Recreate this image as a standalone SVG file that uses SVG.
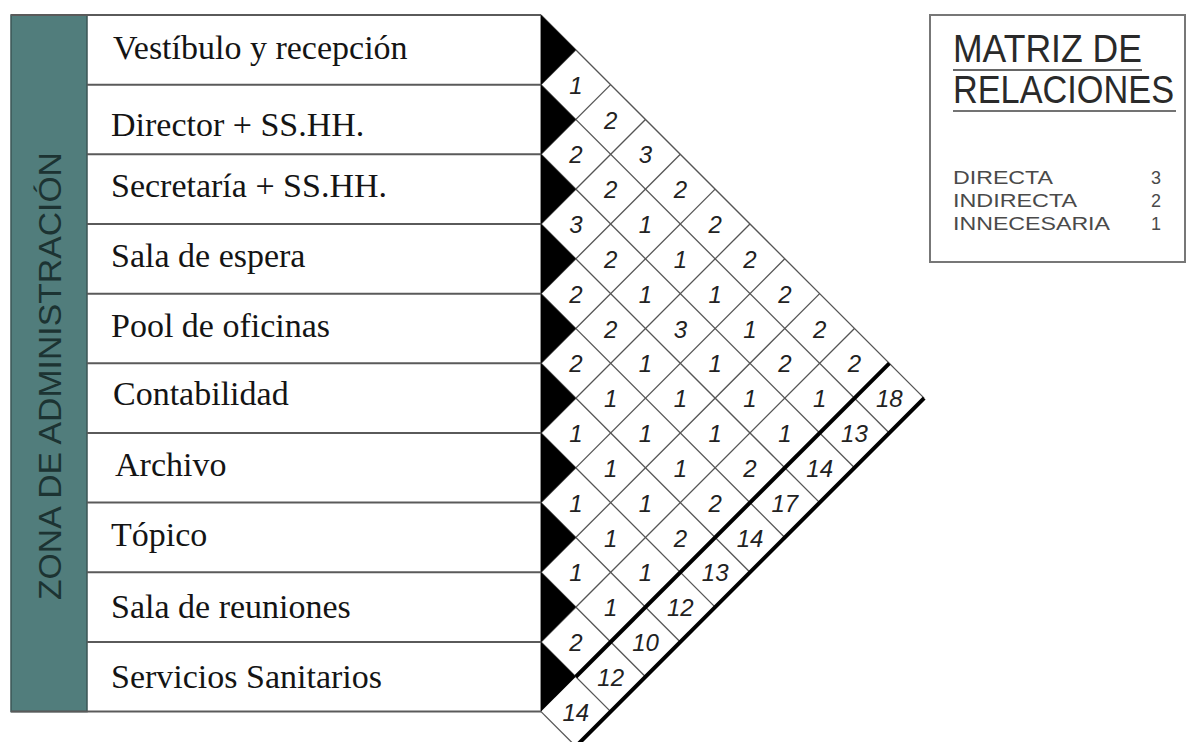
<svg xmlns="http://www.w3.org/2000/svg" width="1188" height="742" viewBox="0 0 1188 742">
<style>
.lbl{font-family:"Liberation Serif","Times New Roman",serif;font-size:34px;fill:#141414}
.zone{font-family:"Liberation Sans",Arial,sans-serif;font-size:31px;fill:#1c3332}
.sep{stroke:#5a5a5a;stroke-width:2;fill:none}
.grid{stroke:#555;stroke-width:1.3;fill:none}
.thick{stroke:#000;stroke-width:4;fill:none}
.tri{fill:#000}
.n{font-family:"Liberation Sans",Arial,sans-serif;font-style:italic;font-size:24px;fill:#222;text-anchor:middle}
.ttl{font-family:"Liberation Sans",Arial,sans-serif;font-size:38px;fill:#2a2a2a}
.leg{font-family:"Liberation Sans",Arial,sans-serif;font-size:18px;fill:#4a4a4a}
</style>
<rect width="1188" height="742" fill="#fff"/>
<g id="zone-label">
<rect x="11" y="15" width="76" height="696.6" fill="#517d7c" stroke="#3b5656" stroke-width="1.5"/>
<text class="zone" transform="translate(61,376) rotate(-90)" text-anchor="middle" textLength="448" lengthAdjust="spacingAndGlyphs">ZONA DE ADMINISTRACIÓN</text>
</g>
<g id="table-frame">
<line class="sep" x1="11" y1="15" x2="541" y2="15"/>
<line class="sep" x1="87" y1="84.66" x2="541" y2="84.66"/>
<line class="sep" x1="87" y1="154.32" x2="541" y2="154.32"/>
<line class="sep" x1="87" y1="223.98" x2="541" y2="223.98"/>
<line class="sep" x1="87" y1="293.64" x2="541" y2="293.64"/>
<line class="sep" x1="87" y1="363.3" x2="541" y2="363.3"/>
<line class="sep" x1="87" y1="432.96" x2="541" y2="432.96"/>
<line class="sep" x1="87" y1="502.62" x2="541" y2="502.62"/>
<line class="sep" x1="87" y1="572.28" x2="541" y2="572.28"/>
<line class="sep" x1="87" y1="641.94" x2="541" y2="641.94"/>
<line class="sep" x1="11" y1="711.6" x2="541" y2="711.6"/>
</g>
<g id="row-0"><text class="lbl" x="113" y="59">Vestíbulo y recepción</text></g>
<g id="row-1"><text class="lbl" x="111" y="136">Director + SS.HH.</text></g>
<g id="row-2"><text class="lbl" x="111" y="197">Secretaría + SS.HH.</text></g>
<g id="row-3"><text class="lbl" x="111" y="267">Sala de espera</text></g>
<g id="row-4"><text class="lbl" x="111" y="337">Pool de oficinas</text></g>
<g id="row-5"><text class="lbl" x="113" y="405">Contabilidad</text></g>
<g id="row-6"><text class="lbl" x="115" y="476">Archivo</text></g>
<g id="row-7"><text class="lbl" x="111" y="546">Tópico</text></g>
<g id="row-8"><text class="lbl" x="111" y="618">Sala de reuniones</text></g>
<g id="row-9"><text class="lbl" x="111" y="688">Servicios Sanitarios</text></g>
<g id="connectors">
<line class="grid" x1="541" y1="15" x2="924.13" y2="398.13"/>
<line class="grid" x1="541" y1="84.66" x2="889.3" y2="432.96"/>
<line class="grid" x1="541" y1="154.32" x2="854.47" y2="467.79"/>
<line class="grid" x1="541" y1="223.98" x2="819.64" y2="502.62"/>
<line class="grid" x1="541" y1="293.64" x2="784.81" y2="537.45"/>
<line class="grid" x1="541" y1="363.3" x2="749.98" y2="572.28"/>
<line class="grid" x1="541" y1="432.96" x2="715.15" y2="607.11"/>
<line class="grid" x1="541" y1="502.62" x2="680.32" y2="641.94"/>
<line class="grid" x1="541" y1="572.28" x2="645.49" y2="676.77"/>
<line class="grid" x1="541" y1="641.94" x2="610.66" y2="711.6"/>
<line class="grid" x1="541" y1="711.6" x2="575.83" y2="746.43"/>
<line class="grid" x1="541" y1="84.66" x2="575.83" y2="49.83"/>
<line class="grid" x1="541" y1="154.32" x2="610.66" y2="84.66"/>
<line class="grid" x1="541" y1="223.98" x2="645.49" y2="119.49"/>
<line class="grid" x1="541" y1="293.64" x2="680.32" y2="154.32"/>
<line class="grid" x1="541" y1="363.3" x2="715.15" y2="189.15"/>
<line class="grid" x1="541" y1="432.96" x2="749.98" y2="223.98"/>
<line class="grid" x1="541" y1="502.62" x2="784.81" y2="258.81"/>
<line class="grid" x1="541" y1="572.28" x2="819.64" y2="293.64"/>
<line class="grid" x1="541" y1="641.94" x2="854.47" y2="328.47"/>
<line class="grid" x1="541" y1="15" x2="541" y2="711.6"/>
<polygon class="tri" points="541,15 575.83,49.83 541,84.66"/>
<polygon class="tri" points="541,84.66 575.83,119.49 541,154.32"/>
<polygon class="tri" points="541,154.32 575.83,189.15 541,223.98"/>
<polygon class="tri" points="541,223.98 575.83,258.81 541,293.64"/>
<polygon class="tri" points="541,293.64 575.83,328.47 541,363.3"/>
<polygon class="tri" points="541,363.3 575.83,398.13 541,432.96"/>
<polygon class="tri" points="541,432.96 575.83,467.79 541,502.62"/>
<polygon class="tri" points="541,502.62 575.83,537.45 541,572.28"/>
<polygon class="tri" points="541,572.28 575.83,607.11 541,641.94"/>
<polygon class="tri" points="541,641.94 575.83,676.77 541,711.6"/>
<line class="thick" x1="575.83" y1="676.77" x2="889.3" y2="363.3"/>
<line class="thick" x1="575.83" y1="746.43" x2="924.13" y2="398.13"/>
</g>
<g id="matrix-values">
<text class="n" x="575.83" y="93.7">1</text>
<text class="n" x="610.66" y="128.5">2</text>
<text class="n" x="575.83" y="163.3">2</text><text class="n" x="645.49" y="163.3">3</text>
<text class="n" x="610.66" y="198.2">2</text><text class="n" x="680.32" y="198.2">2</text>
<text class="n" x="575.83" y="233">3</text><text class="n" x="645.49" y="233">1</text><text class="n" x="715.15" y="233">2</text>
<text class="n" x="610.66" y="267.8">2</text><text class="n" x="680.32" y="267.8">1</text><text class="n" x="749.98" y="267.8">2</text>
<text class="n" x="575.83" y="302.6">2</text><text class="n" x="645.49" y="302.6">1</text><text class="n" x="715.15" y="302.6">1</text><text class="n" x="784.81" y="302.6">2</text>
<text class="n" x="610.66" y="337.5">2</text><text class="n" x="680.32" y="337.5">3</text><text class="n" x="749.98" y="337.5">1</text><text class="n" x="819.64" y="337.5">2</text>
<text class="n" x="575.83" y="372.3">2</text><text class="n" x="645.49" y="372.3">1</text><text class="n" x="715.15" y="372.3">1</text><text class="n" x="784.81" y="372.3">2</text><text class="n" x="854.47" y="372.3">2</text>
<text class="n" x="610.66" y="407.1">1</text><text class="n" x="680.32" y="407.1">1</text><text class="n" x="749.98" y="407.1">1</text><text class="n" x="819.64" y="407.1">1</text><text class="n" x="889.3" y="407.1">18</text>
<text class="n" x="575.83" y="442">1</text><text class="n" x="645.49" y="442">1</text><text class="n" x="715.15" y="442">1</text><text class="n" x="784.81" y="442">1</text><text class="n" x="854.47" y="442">13</text>
<text class="n" x="610.66" y="476.8">1</text><text class="n" x="680.32" y="476.8">1</text><text class="n" x="749.98" y="476.8">2</text><text class="n" x="819.64" y="476.8">14</text>
<text class="n" x="575.83" y="511.6">1</text><text class="n" x="645.49" y="511.6">1</text><text class="n" x="715.15" y="511.6">2</text><text class="n" x="784.81" y="511.6">17</text>
<text class="n" x="610.66" y="546.5">1</text><text class="n" x="680.32" y="546.5">2</text><text class="n" x="749.98" y="546.5">14</text>
<text class="n" x="575.83" y="581.3">1</text><text class="n" x="645.49" y="581.3">1</text><text class="n" x="715.15" y="581.3">13</text>
<text class="n" x="610.66" y="616.1">1</text><text class="n" x="680.32" y="616.1">12</text>
<text class="n" x="575.83" y="650.9">2</text><text class="n" x="645.49" y="650.9">10</text>
<text class="n" x="610.66" y="685.8">12</text>
<text class="n" x="575.83" y="720.6">14</text>
</g>
<g id="legend">
<rect x="930" y="15" width="255" height="247" fill="none" stroke="#777" stroke-width="2"/>
<text class="ttl" x="953" y="62" textLength="189" lengthAdjust="spacingAndGlyphs">MATRIZ DE</text>
<line x1="953" y1="70" x2="1142" y2="70" stroke="#666" stroke-width="2"/>
<text class="ttl" x="953" y="103" textLength="221" lengthAdjust="spacingAndGlyphs">RELACIONES</text>
<line x1="953" y1="111" x2="1176" y2="111" stroke="#444" stroke-width="1.5"/>
<text class="leg" x="953" y="184" textLength="100" lengthAdjust="spacingAndGlyphs">DIRECTA</text>
<text class="leg" x="953" y="207" textLength="124" lengthAdjust="spacingAndGlyphs">INDIRECTA</text>
<text class="leg" x="953" y="230" textLength="157" lengthAdjust="spacingAndGlyphs">INNECESARIA</text>
<text class="leg" x="1156" y="184" text-anchor="middle">3</text>
<text class="leg" x="1156" y="207" text-anchor="middle">2</text>
<text class="leg" x="1156" y="230" text-anchor="middle">1</text>
</g>
</svg>
